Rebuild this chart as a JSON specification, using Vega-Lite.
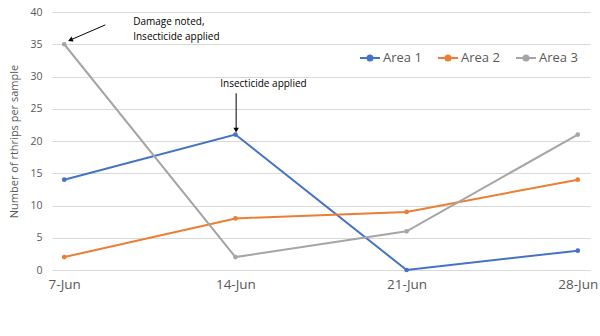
{
  "$schema": "https://vega.github.io/schema/vega-lite/v6.json",
  "autosize": "none",
  "width": 538,
  "height": 258,
  "padding": {"left": 52, "top": 12, "right": 10, "bottom": 66},
  "background": "white",
  "config": {
    "view": {"stroke": null},
    "font": "Open Sans",
    "axis": {"labelColor": "#595959", "titleColor": "#595959", "labelFont": "Open Sans", "titleFont": "Open Sans"}
  },
  "datasets": {
    "series": [
      {"day": 7, "area": "Area 1", "count": 14},
      {"day": 14, "area": "Area 1", "count": 21},
      {"day": 21, "area": "Area 1", "count": 0},
      {"day": 28, "area": "Area 1", "count": 3},
      {"day": 7, "area": "Area 2", "count": 2},
      {"day": 14, "area": "Area 2", "count": 8},
      {"day": 21, "area": "Area 2", "count": 9},
      {"day": 28, "area": "Area 2", "count": 14},
      {"day": 7, "area": "Area 3", "count": 35},
      {"day": 14, "area": "Area 3", "count": 2},
      {"day": 21, "area": "Area 3", "count": 6},
      {"day": 28, "area": "Area 3", "count": 21}
    ],
    "notes": [
      {"day": 9.82, "count": 38.4, "label": "Damage noted,\nInsecticide applied"},
      {"day": 13.38, "count": 28.8, "label": "Insecticide applied"}
    ],
    "arrows": [
      {"day": 8.68, "count": 38.0, "day2": 7.25, "count2": 35.66, "angle": 247},
      {"day": 14.03, "count": 27.4, "day2": 14.03, "count2": 21.7, "angle": 180}
    ]
  },
  "encoding": {
    "x": {
      "field": "day", "type": "quantitative",
      "scale": {"domain": [6.5, 28.5], "nice": false, "zero": false},
      "axis": {
        "values": [7, 14, 21, 28], "labelExpr": "datum.value + '-Jun'",
        "grid": false, "ticks": false, "domain": false,
        "labelFontSize": 13.5, "labelPadding": 7, "title": null
      }
    },
    "y": {
      "field": "count", "type": "quantitative",
      "scale": {"domain": [0, 40], "nice": false},
      "axis": {
        "values": [0, 5, 10, 15, 20, 25, 30, 35, 40],
        "tickCount": 20,
        "labelOverlap": false,
        "grid": true, "gridColor": "#d9d9d9", "gridWidth": 1,
        "ticks": false, "domain": false,
        "labelFontSize": 10.5, "labelPadding": 10,
        "title": "Number of rthrips per sample",
        "titleFontSize": 11, "titleFontWeight": "normal",
        "titleX": -38, "titleY": 129, "titleAngle": -90,
        "titleAlign": "center", "titleBaseline": "middle"
      }
    }
  },
  "layer": [
    {
      "data": {"name": "series"},
      "mark": {"type": "line", "strokeWidth": 2, "point": {"filled": true, "size": 22}},
      "encoding": {
        "color": {
          "field": "area", "type": "nominal",
          "scale": {"domain": ["Area 1", "Area 2", "Area 3"], "range": ["#4472C4", "#ED7D31", "#A5A5A5"]},
          "legend": {
            "title": null, "orient": "none", "direction": "horizontal",
            "legendX": 307, "legendY": 35, "padding": 0,
            "symbolType": "M-1,0H1M0.25,0A0.25,0.25,0,1,1,-0.25,0A0.25,0.25,0,1,1,0.25,0Z",
            "symbolSize": 400, "symbolStrokeWidth": 2,
            "labelFontSize": 13, "labelColor": "#595959", "labelFont": "Open Sans",
            "labelOffset": 2, "columnPadding": 12
          }
        }
      }
    },
    {
      "data": {"name": "notes"},
      "mark": {"type": "text", "align": "left", "baseline": "middle", "fontSize": 10, "lineBreak": "\n", "lineHeight": 15, "color": "#000000"},
      "encoding": {
        "text": {"field": "label"}
      }
    },
    {
      "data": {"name": "arrows"},
      "mark": {"type": "rule", "color": "#000000", "strokeWidth": 1},
      "encoding": {
        "x2": {"field": "day2"},
        "y2": {"field": "count2"}
      }
    },
    {
      "data": {"name": "arrows"},
      "mark": {"type": "point", "shape": "triangle-up", "filled": true, "color": "#000000", "size": 30, "opacity": 1},
      "encoding": {
        "x": {"field": "day2", "type": "quantitative"},
        "y": {"field": "count2", "type": "quantitative"},
        "angle": {"field": "angle", "type": "quantitative", "scale": null}
      }
    }
  ]
}
